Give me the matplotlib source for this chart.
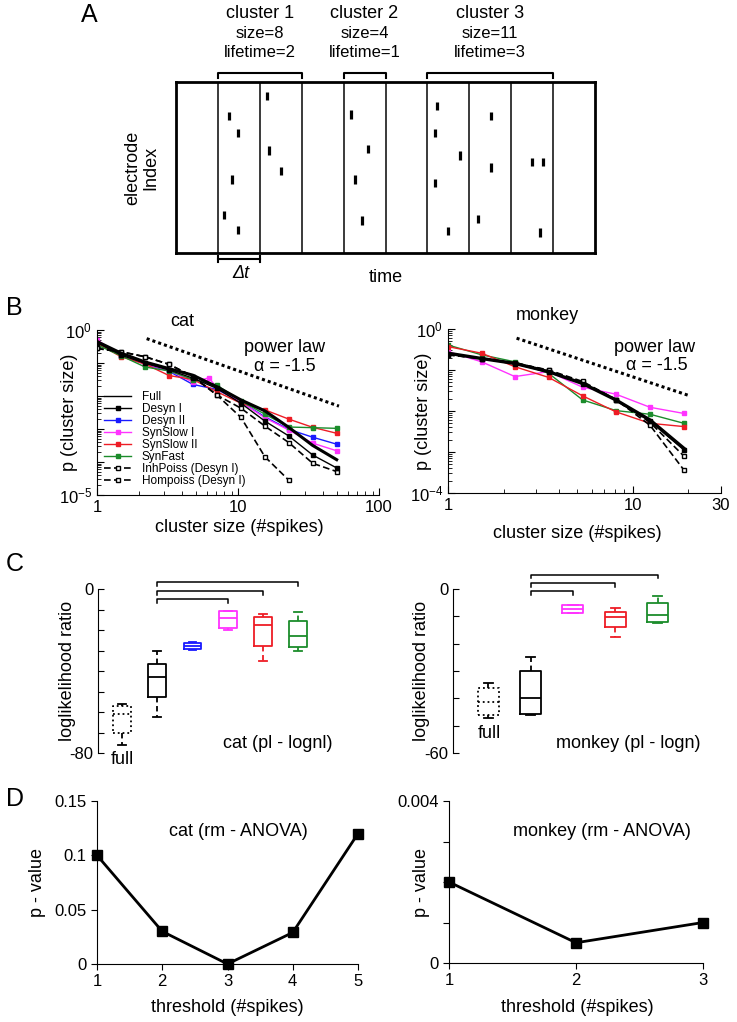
import matplotlib
matplotlib.use("Agg")
import matplotlib.pyplot as plt
from matplotlib.ticker import FixedLocator, FixedFormatter, NullFormatter
import numpy as np

plt.rcParams['font.family'] = ['Liberation Sans', 'DejaVu Sans']
plt.rcParams['mathtext.fontset'] = 'custom'
plt.rcParams['mathtext.rm'] = 'Liberation Sans'
plt.rcParams['mathtext.it'] = 'Liberation Sans:italic'

# ---------------- data ----------------
# A: spike raster, time in units of dt bins, electrode position 0..1
n_bins = 10
spike_t = [1.26, 1.48, 1.34, 1.15, 1.48, 2.17, 2.22, 2.51,
           4.18, 4.58, 4.27, 4.44,
           6.23, 6.18, 6.78, 6.18, 6.49, 7.52, 7.52, 7.21, 8.50, 8.76, 8.69]
spike_e = [0.80, 0.70, 0.43, 0.22, 0.135, 0.92, 0.60, 0.48,
           0.81, 0.61, 0.43, 0.19,
           0.86, 0.70, 0.57, 0.41, 0.13, 0.80, 0.50, 0.20, 0.53, 0.53, 0.12]
cl_names = ['cluster 1', 'cluster 2', 'cluster 3']
cl_start = [1, 4, 6]
cl_end = [3, 5, 9]
cl_size = [8, 4, 11]
cl_life = [2, 1, 3]

# B: cluster size distributions (log10 of probability)
cat_x = [1, 1.48, 2.19, 3.24, 4.79, 7.08, 10.5, 15.5, 22.9, 33.9, 50.1]
cat_full = [-0.35, -0.70, -0.97, -1.17, -1.37, -1.72, -2.12, -2.45, -2.95, -3.50, -3.93]
cat_desyn1 = [-0.38, -0.76, -1.01, -1.21, -1.46, -1.77, -2.22, -2.76, -3.21, -3.79, -4.18]
cat_desyn2 = [-0.40, -0.78, -1.03, -1.25, -1.65, -1.80, -2.18, -2.63, -3.01, -3.25, -3.46]
cat_x_slow1 = [1, 1.48, 2.19, 3.24, 4.79, 6.2, 7.08, 10.5, 15.5, 22.9, 33.9, 50.1]
cat_slow1 = [-0.30, -0.78, -1.03, -1.22, -1.58, -1.45, -1.74, -2.18, -2.66, -3.03, -3.43, -3.66]
cat_slow2 = [-0.40, -0.81, -1.03, -1.38, -1.50, -1.87, -2.22, -2.42, -2.70, -2.95, -3.13]
cat_fast = [-0.45, -0.78, -1.12, -1.24, -1.50, -1.67, -2.15, -2.55, -2.94, -2.96, -2.98]
cat_inh = [-0.56, -0.66, -0.81, -1.04, -1.41, -1.97, -2.37, -2.91, -3.41, -4.04, -4.29]
cat_hom = [-0.56, -0.66, -0.81, -1.04, -1.41, -1.97, -2.65, -3.84, -4.55]

mk_x = [1, 1.52, 2.3, 3.5, 5.35, 8.1, 12.4, 18.9]
mk_full = [-0.59, -0.72, -0.84, -1.04, -1.33, -1.73, -2.22, -2.91]
mk_desyn1 = [-0.60, -0.72, -0.85, -1.05, -1.33, -1.74, -2.25, -2.95]
mk_inh = [-0.63, -0.72, -0.83, -1.01, -1.30, -1.72, -2.28, -3.10]
mk_hom = [-0.63, -0.72, -0.83, -1.00, -1.28, -1.72, -2.35, -3.44]
mk_slow1 = [-0.55, -0.80, -1.16, -1.04, -1.42, -1.59, -1.91, -2.06]
mk_slow2 = [-0.43, -0.59, -0.92, -1.18, -1.63, -2.02, -2.30, -2.38]
mk_fast = [-0.39, -0.63, -0.80, -1.08, -1.73, -1.99, -2.08, -2.30]

pl_alpha = -1.5
cat_pl_x = [2.25, 52]
cat_pl_amp = 1.85
mk_pl_x = [2.35, 19.9]
mk_pl_amp = 2.15

# C: loglikelihood ratio box stats
cat_box_names = ['full', 'Desyn I', 'Desyn II', 'SynSlow I', 'SynSlow II', 'SynFast']
cat_whislo = [-76.1, -62.6, -29.9, -20.1, -35.0, -30.2]
cat_q1 = [-70.1, -52.8, -29.4, -19.2, -27.6, -28.5]
cat_med = [-61.0, -42.8, -27.8, -14.3, -17.7, -23.1]
cat_q3 = [-57.2, -36.4, -26.2, -10.6, -13.8, -15.5]
cat_whishi = [-56.3, -30.2, -25.7, -10.6, -12.4, -11.1]
cat_sig = [3, 4, 5]

mk_box_names = ['full', 'Desyn I', 'SynSlow I', 'SynSlow II', 'SynFast']
mk_whislo = [-47.2, -46.2, -8.6, -17.4, -12.5]
mk_q1 = [-46.2, -45.6, -8.6, -14.0, -12.1]
mk_med = [-41.5, -40.0, -7.2, -10.1, -9.6]
mk_q3 = [-36.4, -30.0, -6.0, -8.3, -5.1]
mk_whishi = [-34.5, -24.8, -6.0, -7.1, -2.7]
mk_sig = [2, 3, 4]

# D: rm-ANOVA p-values
d_cat_thr = [1, 2, 3, 4, 5]
d_cat_p = [0.10, 0.030, 0.0, 0.029, 0.12]
d_mk_thr = [1, 2, 3]
d_mk_p = [0.0020, 0.0005, 0.0010]

# ---------------- style ----------------
col = {'full': 'black', 'Desyn I': 'black', 'Desyn II': '#1a1aff',
       'SynSlow I': '#ff33ff', 'SynSlow II': '#ee1c25', 'SynFast': '#1b8c2b'}

W, H = 737, 1022
fig = plt.figure(figsize=(W / 100, H / 100), dpi=100)


def rect(l, t, r, b):
    return [l / W, 1 - b / H, (r - l) / W, (b - t) / H]


def ftext(x, y, s, **kw):
    kw.setdefault('ha', 'center')
    kw.setdefault('va', 'center')
    kw.setdefault('fontsize', 13)
    return fig.text(x / W, 1 - y / H, s, **kw)


# panel letters
ftext(89, 15, 'A', fontsize=18)
ftext(14, 308, 'B', fontsize=18)
ftext(15, 564, 'C', fontsize=18)
ftext(15, 799, 'D', fontsize=18)

# ---------------- A ----------------
axA = fig.add_axes(rect(176, 82, 595, 253))
axA.set_xlim(0, n_bins)
axA.set_ylim(0, 1)
axA.set_xticks([])
axA.set_yticks([])
for s in axA.spines.values():
    s.set_linewidth(2)
axA.vlines(np.arange(1, n_bins), 0, 1, color='#3a3a3a', lw=1.4)
se = np.array(spike_e)
axA.vlines(spike_t, se - 0.024, se + 0.024, color='black', lw=2.3)
for name, x0, x1, sz, lt in zip(cl_names, cl_start, cl_end, cl_size, cl_life):
    axA.plot([x0, x0, x1, x1], [1.022, 1.053, 1.053, 1.022], color='black',
             lw=1.5, clip_on=False)
    xc = (x0 + x1) / 2
    axA.text(xc, 1.40, name, ha='center', va='center', fontsize=13)
    axA.text(xc, 1.285, 'size=%d' % sz, ha='center', va='center', fontsize=12)
    axA.text(xc, 1.175, 'lifetime=%d' % lt, ha='center', va='center', fontsize=12)
axA.plot([1, 2], [-0.035, -0.035], color='black', lw=1.5, clip_on=False)
axA.plot([1, 1], [-0.015, -0.055], color='black', lw=1.5, clip_on=False)
axA.plot([2, 2], [-0.015, -0.055], color='black', lw=1.5, clip_on=False)
axA.text(1.55, -0.12, 'Δt', style='italic', ha='center', va='center', fontsize=13)
axA.text(5.0, -0.146, 'time', ha='center', va='center', fontsize=13)
axA.text(-0.81, 0.5, 'electrode\nIndex', rotation=90, ha='center', va='center',
         fontsize=13, linespacing=1.05)


# ---------------- B ----------------
def style_log(ax):
    for s in ['top', 'right']:
        ax.spines[s].set_visible(False)
    ax.tick_params(which='both', direction='in', labelsize=12)
    ax.tick_params(which='major', length=5)
    ax.tick_params(which='minor', length=3)


def p(v):
    return 10 ** np.array(v)


axB1 = fig.add_axes(rect(97, 330, 379, 495))
axB1.set_xscale('log')
axB1.set_yscale('log')
axB1.set_xlim(1, 100)
axB1.set_ylim(1e-5, 1)
style_log(axB1)
pl_x = np.array(cat_pl_x)
axB1.plot(pl_x, cat_pl_amp * pl_x ** pl_alpha, color='black', lw=2.2, ls=(0, (1, 1)))
lines = []
lines += axB1.plot(cat_x, p(cat_full), color='black', lw=2.2, label='Full', zorder=6)
lines += axB1.plot(cat_x, p(cat_desyn1), color='black', lw=1, marker='s', ms=3.5,
                   label='Desyn I', zorder=5)
lines += axB1.plot(cat_x, p(cat_desyn2), color=col['Desyn II'], lw=1, marker='s', ms=3.5,
                   label='Desyn II')
lines += axB1.plot(cat_x_slow1, p(cat_slow1), color=col['SynSlow I'], lw=1, marker='s',
                   ms=3.5, label='SynSlow I')
lines += axB1.plot(cat_x, p(cat_slow2), color=col['SynSlow II'], lw=1, marker='s', ms=3.5,
                   label='SynSlow II')
lines += axB1.plot(cat_x, p(cat_fast), color=col['SynFast'], lw=1, marker='s', ms=3.5,
                   label='SynFast')
lines += axB1.plot(cat_x, p(cat_inh), color='black', lw=1.2, ls=(0, (4, 2)), marker='s',
                   ms=3, mfc='white', label='InhPoiss (Desyn I)')
lines += axB1.plot(cat_x[:len(cat_hom)], p(cat_hom), color='black', lw=1.2, ls=(0, (4, 2)),
                   marker='s', ms=3, mfc='white', label='Hompoiss (Desyn I)')
leg = fig.legend(handles=lines, loc='upper left', bbox_to_anchor=(104 / W, 1 - 391 / H),
                 frameon=False, fontsize=8.5, labelspacing=0.0, handlelength=2.3,
                 handletextpad=0.9, borderaxespad=0, borderpad=0)
leg.get_lines()[0].set_linewidth(1)
axB1.xaxis.set_major_locator(FixedLocator([1, 10, 100]))
axB1.xaxis.set_major_formatter(FixedFormatter(['1', '10', '100']))
axB1.xaxis.set_minor_locator(FixedLocator(list(range(2, 10)) + list(range(20, 100, 10))))
axB1.xaxis.set_minor_formatter(NullFormatter())
axB1.yaxis.set_major_locator(FixedLocator([1e-5, 1e-4, 1e-3, 1e-2, 1e-1, 1]))
axB1.yaxis.set_major_formatter(FixedFormatter(['$10^{-5}$', '', '', '', '', '$10^{0}$']))
axB1.yaxis.set_minor_locator(FixedLocator([m * 10.0 ** e for e in range(-5, 0) for m in range(2, 10)]))
axB1.yaxis.set_minor_formatter(NullFormatter())
ftext(182, 322, 'cat')
ftext(285, 348, 'power law')
ftext(285, 366, 'α = -1.5')
ftext(239, 527, 'cluster size (#spikes)')
ftext(70, 412, 'p (cluster size)', rotation=90)

axB2 = fig.add_axes(rect(448, 329, 721, 493))
axB2.set_xscale('log')
axB2.set_yscale('log')
axB2.set_xlim(1, 30)
axB2.set_ylim(1e-4, 1)
style_log(axB2)
pl_x = np.array(mk_pl_x)
axB2.plot(pl_x, mk_pl_amp * pl_x ** pl_alpha, color='black', lw=2.2, ls=(0, (1, 1)))
axB2.plot(mk_x, p(mk_slow1), color=col['SynSlow I'], lw=1, marker='s', ms=3.5)
axB2.plot(mk_x, p(mk_fast), color=col['SynFast'], lw=1, marker='s', ms=3.5)
axB2.plot(mk_x, p(mk_slow2), color=col['SynSlow II'], lw=1, marker='s', ms=3.5)
axB2.plot(mk_x, p(mk_inh), color='black', lw=1.2, ls=(0, (4, 2)), marker='s', ms=3, mfc='white')
axB2.plot(mk_x, p(mk_hom), color='black', lw=1.2, ls=(0, (4, 2)), marker='s', ms=3, mfc='white')
axB2.plot(mk_x, p(mk_desyn1), color='black', lw=1, marker='s', ms=3.5)
axB2.plot(mk_x, p(mk_full), color='black', lw=2.4)
axB2.xaxis.set_major_locator(FixedLocator([1, 10, 30]))
axB2.xaxis.set_major_formatter(FixedFormatter(['1', '10', '30']))
axB2.xaxis.set_minor_locator(FixedLocator(list(range(2, 10)) + [20]))
axB2.xaxis.set_minor_formatter(NullFormatter())
axB2.yaxis.set_major_locator(FixedLocator([1e-4, 1e-3, 1e-2, 1e-1, 1]))
axB2.yaxis.set_major_formatter(FixedFormatter(['$10^{-4}$', '', '', '', '$10^{0}$']))
axB2.yaxis.set_minor_locator(FixedLocator([m * 10.0 ** e for e in range(-4, 0) for m in range(2, 10)]))
axB2.yaxis.set_minor_formatter(NullFormatter())
ftext(547, 315, 'monkey')
ftext(655, 347, 'power law')
ftext(657, 365, 'α = -1.5')
ftext(577, 533, 'cluster size (#spikes)')
ftext(423, 411, 'p (cluster size)', rotation=90)


# ---------------- C ----------------
def box_panel(ax, names, wlo, q1, med, q3, whi, sig, ymin, sig_levels, tick_len):
    stats = [dict(whislo=a, q1=b, med=c, q3=d, whishi=e)
             for a, b, c, d, e in zip(wlo, q1, med, q3, whi)]
    pos = np.arange(1, len(names) + 1)
    art = ax.bxp(stats, positions=pos, widths=0.5, capwidths=0.22, showfliers=False)
    for i, n in enumerate(names):
        c = col[n]
        ls = ':' if n == 'full' else '-'
        art['boxes'][i].set(color=c, lw=1.3, ls=ls)
        art['medians'][i].set(color=c, lw=1.3, ls=ls)
        for w in art['whiskers'][2 * i:2 * i + 2]:
            w.set(color=c, lw=1.3, ls=(0, (3, 2)))
        for cp in art['caps'][2 * i:2 * i + 2]:
            cp.set(color=c, lw=1.3)
    for j, lev in zip(sig, sig_levels):
        ax.plot([pos[1], pos[1], pos[j], pos[j]],
                [lev - tick_len, lev, lev, lev - tick_len], color='black', lw=1.1,
                clip_on=False)
    ax.set_ylim(ymin, 0)
    for s in ['top', 'right', 'bottom']:
        ax.spines[s].set_visible(False)
    ax.set_xticks([])
    ticks = np.arange(ymin, 1, 10)
    ax.set_yticks(ticks)
    ax.set_yticklabels([str(int(t)) if t in (ymin, 0) else '' for t in ticks])
    ax.tick_params(axis='y', direction='in', length=4, labelsize=12)


axC1 = fig.add_axes(rect(98, 589, 330, 753))
axC1.set_xlim(0.32, 6.9)
box_panel(axC1, cat_box_names, cat_whislo, cat_q1, cat_med, cat_q3, cat_whishi,
          cat_sig, -80, [-4.9, -0.8, 3.6], 2.0)
ftext(122, 760, 'full')
ftext(278, 743, 'cat (pl - lognl)')
ftext(67, 671, 'loglikelihood ratio', rotation=90)

axC2 = fig.add_axes(rect(453, 589, 700, 753))
axC2.set_xlim(0.17, 6.0)
box_panel(axC2, mk_box_names, mk_whislo, mk_q1, mk_med, mk_q3, mk_whishi,
          mk_sig, -60, [-0.9, 2.2, 5.3], 1.3)
ftext(489, 733, 'full')
ftext(628, 743, 'monkey (pl - logn)')
ftext(422, 671, 'loglikelihood ratio', rotation=90)


# ---------------- D ----------------
def style_lin(ax):
    for s in ['top', 'right']:
        ax.spines[s].set_visible(False)
    ax.tick_params(which='both', direction='out', length=4, labelsize=12)


axD1 = fig.add_axes(rect(97, 801, 358, 964))
axD1.plot(d_cat_thr, d_cat_p, color='black', lw=2, marker='s', ms=7, clip_on=False, zorder=5)
axD1.set_xlim(1, 5)
axD1.set_ylim(0, 0.15)
axD1.set_xticks(d_cat_thr)
axD1.set_yticks([0, 0.05, 0.1, 0.15])
axD1.set_yticklabels(['0', '0.05', '0.1', '0.15'])
style_lin(axD1)
ftext(238, 832, 'cat (rm - ANOVA)')
ftext(227, 1008, 'threshold (#spikes)')
ftext(37, 882, 'p - value', rotation=90)

axD2 = fig.add_axes(rect(449, 801, 703, 963))
axD2.plot(d_mk_thr, d_mk_p, color='black', lw=2, marker='s', ms=7, clip_on=False, zorder=5)
axD2.set_xlim(1, 3)
axD2.set_ylim(0, 0.004)
axD2.set_xticks(d_mk_thr)
axD2.set_yticks([0, 0.001, 0.002, 0.003, 0.004])
axD2.set_yticklabels(['0', '', '', '', '0.004'])
style_lin(axD2)
ftext(602, 832, 'monkey (rm - ANOVA)')
ftext(577, 1008, 'threshold (#spikes)')
ftext(422, 882, 'p - value', rotation=90)

fig.savefig('out.png', dpi=100)
